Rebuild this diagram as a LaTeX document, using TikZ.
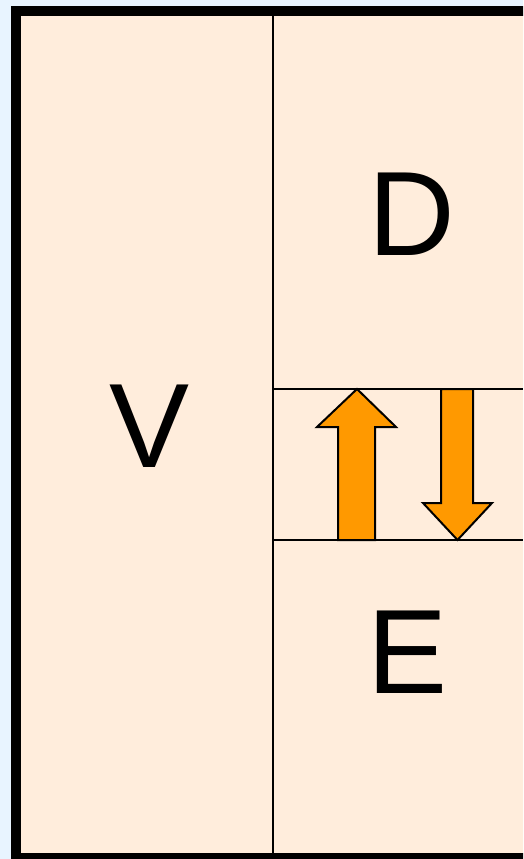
\documentclass[tikz,border=0pt]{standalone}
\usepackage{fontspec}
\setmainfont{Liberation Sans}
\definecolor{bgblue}{HTML}{E8F4FF}
\definecolor{cellfill}{HTML}{FFEDDC}
\definecolor{arrowfill}{HTML}{FF9900}
\begin{document}
\begin{tikzpicture}[x=1pt,y=-1pt,
  divider/.style={line width=2pt,black},
  bigarrow/.style={fill=arrowfill,draw=black,line width=2pt,line join=miter},
  biglabel/.style={inner sep=0pt,font=\fontsize{120}{120}\selectfont}]
\useasboundingbox (0,0) rectangle (523,859);
\fill[bgblue] (0,0) rectangle (523,859);
\begin{scope}
\clip (0,0) rectangle (523,859);
\draw[line width=10pt,fill=cellfill] (16,11) rectangle (545,858);
\end{scope}
\coordinate (vt) at (273,16);
\coordinate (vb) at (273,853);
\coordinate (h1l) at (273,389);
\coordinate (h1r) at (523,389);
\coordinate (h2l) at (273,540);
\coordinate (h2r) at (523,540);
\draw[divider] (vt) -- (vb);
\draw[divider] (h1l) -- (h1r);
\draw[divider] (h2l) -- (h2r);
\draw[bigarrow] (338,540) -- (338,427) -- (317,427) -- (357,389) -- (396,427) -- (375,427) -- (375,540) -- cycle;
\draw[bigarrow] (441,389) -- (441,503) -- (423,503) -- (457.5,540) -- (492,503) -- (473,503) -- (473,389) -- cycle;
\node[biglabel] (V) at (150,426) {V};
\node[biglabel] (D) at (411.5,214) {D};
\node[biglabel] (E) at (407.5,652.5) {E};
\end{tikzpicture}
\end{document}
